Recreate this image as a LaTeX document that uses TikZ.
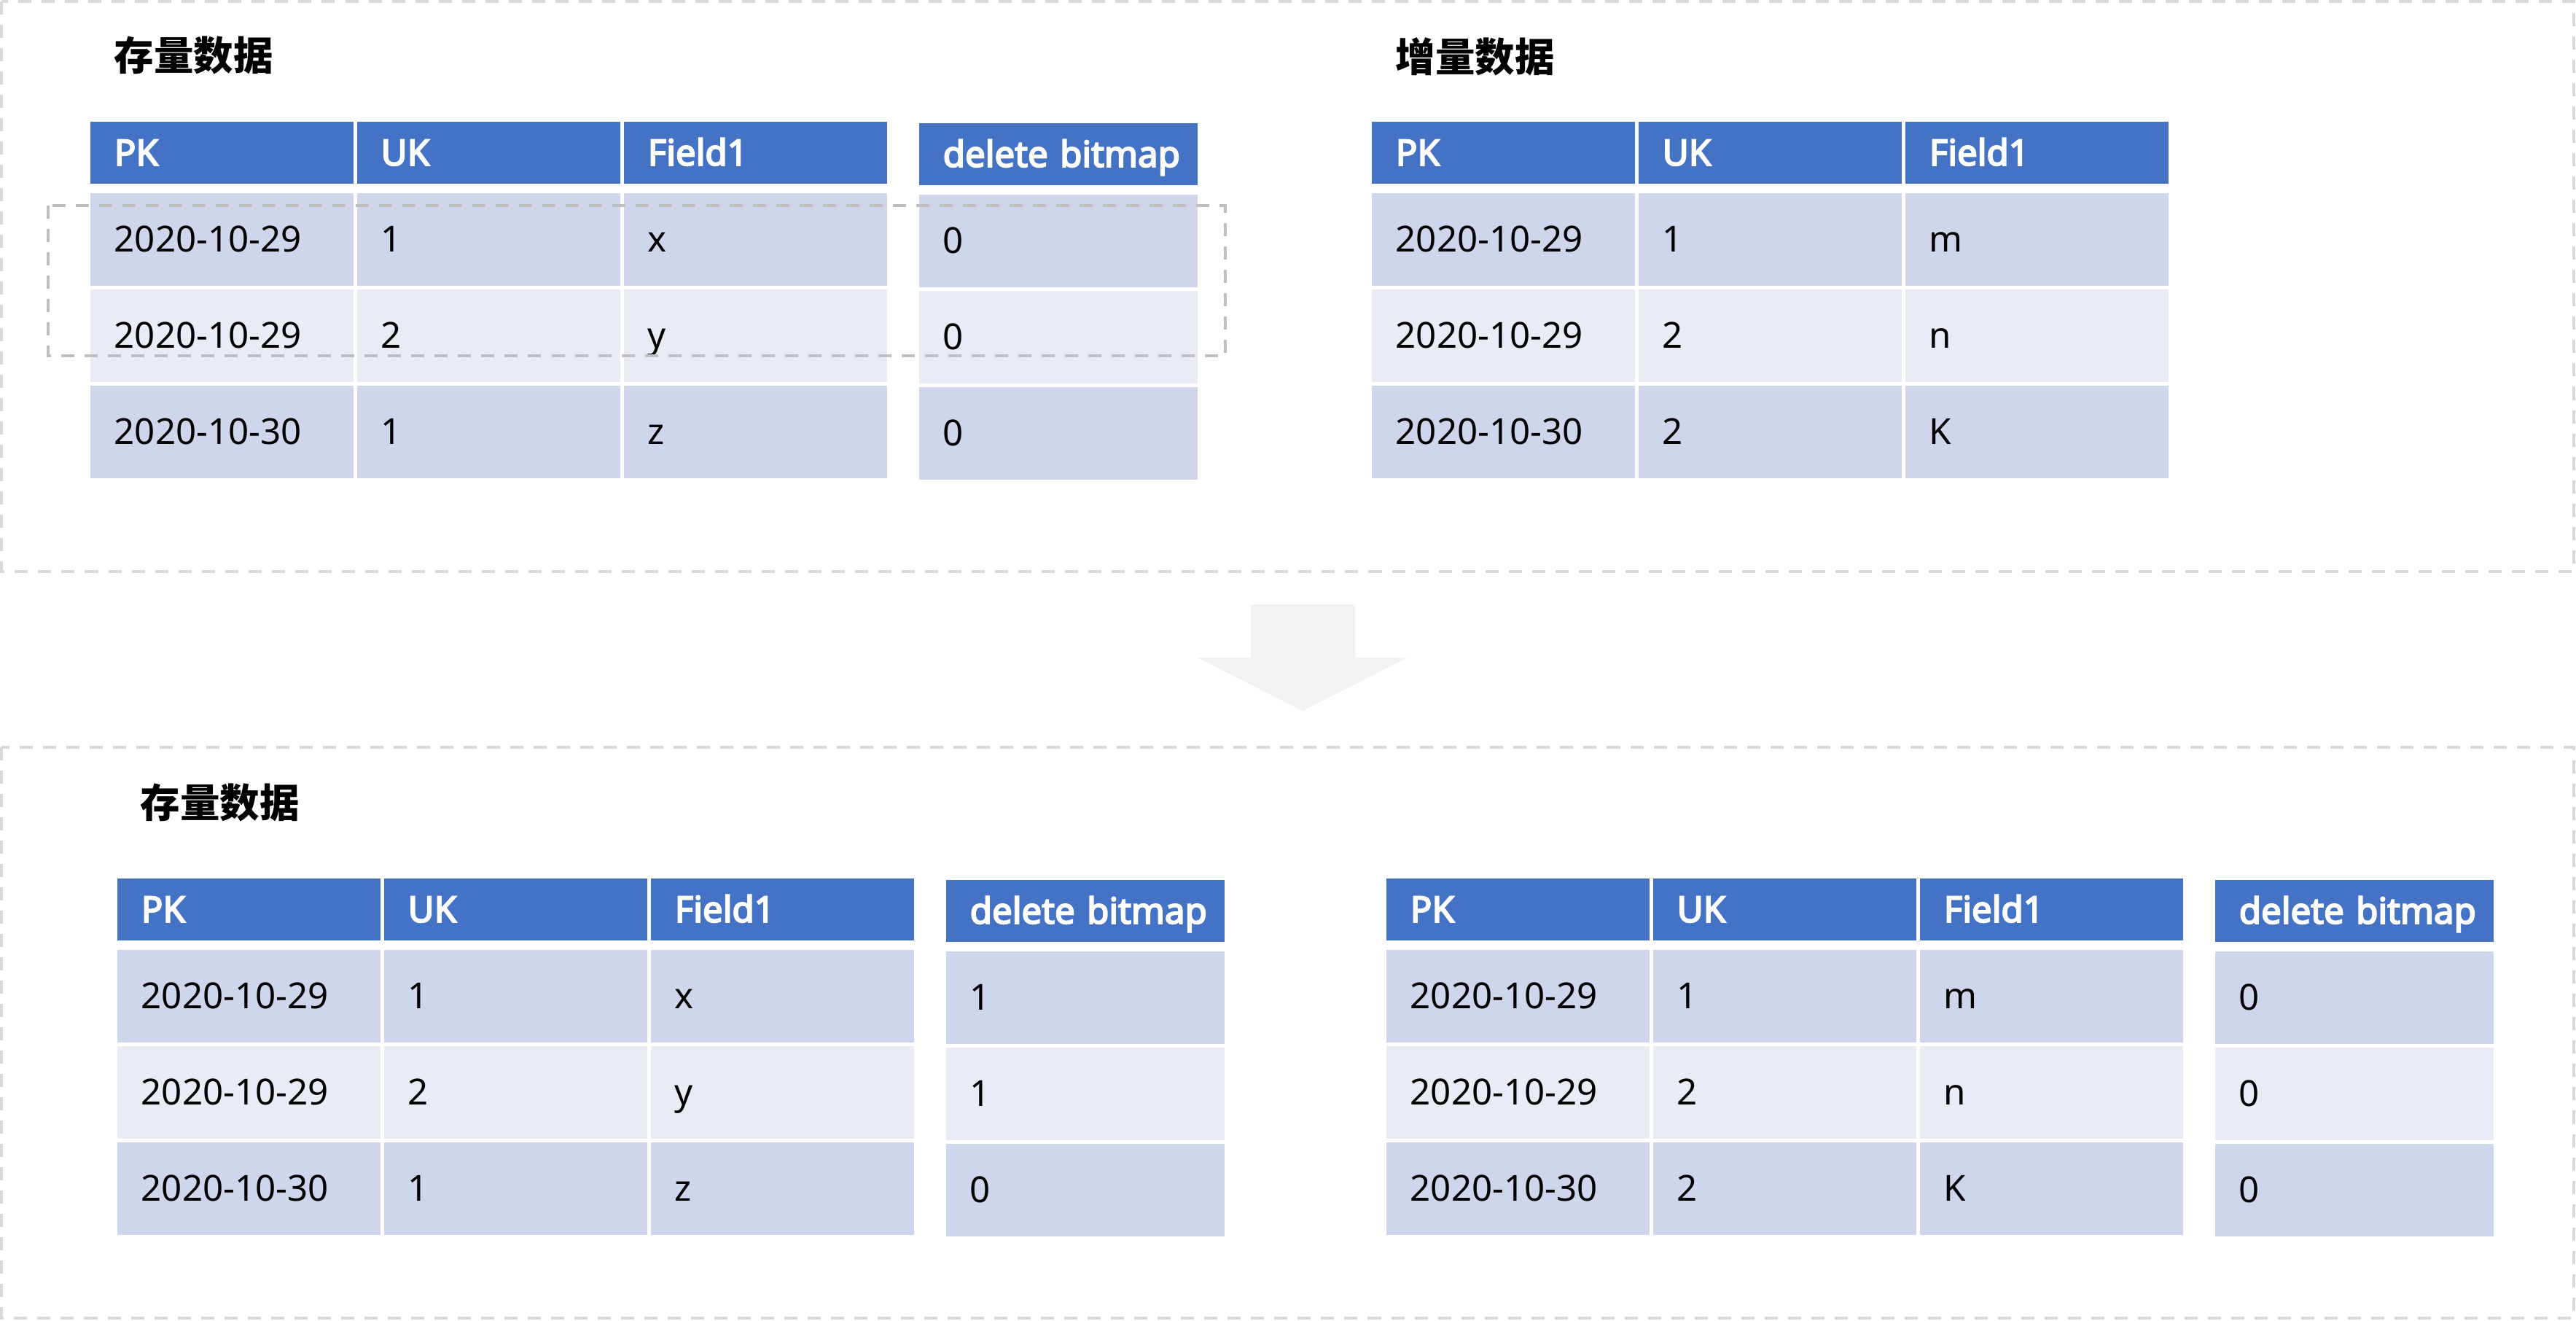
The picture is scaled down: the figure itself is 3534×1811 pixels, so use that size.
\documentclass[tikz,border=0pt]{standalone}
\usepackage{fontspec}
\setmainfont{Noto Sans}
\newfontfamily\hdfont{Noto Sans}[FakeBold=4]
\newfontfamily\cjk{Noto Sans CJK SC}
\definecolor{hdblue}{HTML}{4472C4}
\definecolor{rowdark}{HTML}{CFD5EA}
\definecolor{rowlight}{HTML}{E9EBF5}
\definecolor{framegray}{HTML}{D9D9D9}
\definecolor{markgray}{HTML}{BFBFBF}
\definecolor{arrowgray}{HTML}{F2F2F2}
\tikzset{
  tcell/.style={anchor=north west, inner xsep=0.33cm, inner ysep=0pt, text height=10pt, text depth=0pt, align=left, font=\fontsize{14}{16}\selectfont},
  hd/.style={tcell, fill=hdblue, text=white, font=\hdfont\fontsize{14}{16}\selectfont, minimum height=0.85cm},
  rw/.style={tcell, minimum height=1.27cm},
  wcol/.style={text width=2.95cm},
  wdel/.style={text width=3.16cm},
  ttl/.style={anchor=west, inner sep=0pt, font=\cjk\bfseries\fontsize{15.5}{18}\selectfont},
  outerbox/.style={draw=framegray, line width=0.04cm, dash pattern=on 0.18cm off 0.14cm},
  markbox/.style={draw=markgray, line width=0.04cm, dash pattern=on 0.18cm off 0.14cm},
}
\begin{document}
\begin{tikzpicture}[x=0.01cm, y=-0.01cm]
  \useasboundingbox (0,0) rectangle (3534,1811);

  % ================= 上框：合并前 =================
  \draw[outerbox] (2,2) rectangle (3531,784);

  % 存量数据
  \node[ttl] (t1) at (156,76) {存量数据};
  \begin{scope}[shift={(123,166)}]
    \node[hd, wcol] (s1-h1) at (0,0) {PK};
    \node[hd, wcol] (s1-h2) at (366,0) {UK};
    \node[hd, wcol] (s1-h3) at (732,0) {Field1};
    \node[hd, wdel] (s1-h4) at (1137,2) {\mbox{delete bitmap}};
    \foreach \r/\y/\fc/\pk/\uk/\fd/\db in {1/98/rowdark/2020-10-29/1/x/0, 2/230/rowlight/2020-10-29/2/y/0, 3/362/rowdark/2020-10-30/1/z/0}{
      \node[rw, wcol, fill=\fc] (s1-\r-1) at (0,\y) {\pk};
      \node[rw, wcol, fill=\fc] (s1-\r-2) at (366,\y) {\uk};
      \node[rw, wcol, fill=\fc] (s1-\r-3) at (732,\y) {\fd};
      \node[rw, wdel, fill=\fc] (s1-\r-4) at (1137,\y+2) {\db};
    }
  \end{scope}

  % 增量数据
  \node[ttl] (t2) at (1914,78) {增量数据};
  \begin{scope}[shift={(1881,166)}]
    \node[hd, wcol] (z1-h1) at (0,0) {PK};
    \node[hd, wcol] (z1-h2) at (366,0) {UK};
    \node[hd, wcol] (z1-h3) at (732,0) {Field1};
    \foreach \r/\y/\fc/\pk/\uk/\fd in {1/98/rowdark/2020-10-29/1/m, 2/230/rowlight/2020-10-29/2/n, 3/362/rowdark/2020-10-30/2/K}{
      \node[rw, wcol, fill=\fc] (z1-\r-1) at (0,\y) {\pk};
      \node[rw, wcol, fill=\fc] (z1-\r-2) at (366,\y) {\uk};
      \node[rw, wcol, fill=\fc] (z1-\r-3) at (732,\y) {\fd};
    }
  \end{scope}

  % 被覆盖的两行
  \draw[markbox] (66,282) rectangle (1681,488);

  % 向下箭头
  \fill[arrowgray] (1716,829) -- (1859,829) -- (1859,902) -- (1931,902) -- (1787,975) -- (1643,902) -- (1716,902) -- cycle;

  % ================= 下框：合并后 =================
  \draw[outerbox] (2,1025) rectangle (3531,1808);

  \node[ttl] (t3) at (192,1101) {存量数据};
  \begin{scope}[shift={(160,1204)}]
    \node[hd, wcol] (s2-h1) at (0,0) {PK};
    \node[hd, wcol] (s2-h2) at (366,0) {UK};
    \node[hd, wcol] (s2-h3) at (732,0) {Field1};
    \node[hd, wdel] (s2-h4) at (1137,2) {\mbox{delete bitmap}};
    \foreach \r/\y/\fc/\pk/\uk/\fd/\db in {1/98/rowdark/2020-10-29/1/x/1, 2/230/rowlight/2020-10-29/2/y/1, 3/362/rowdark/2020-10-30/1/z/0}{
      \node[rw, wcol, fill=\fc] (s2-\r-1) at (0,\y) {\pk};
      \node[rw, wcol, fill=\fc] (s2-\r-2) at (366,\y) {\uk};
      \node[rw, wcol, fill=\fc] (s2-\r-3) at (732,\y) {\fd};
      \node[rw, wdel, fill=\fc] (s2-\r-4) at (1137,\y+2) {\db};
    }
  \end{scope}

  \begin{scope}[shift={(1901,1204)}]
    \node[hd, wcol] (z2-h1) at (0,0) {PK};
    \node[hd, wcol] (z2-h2) at (366,0) {UK};
    \node[hd, wcol] (z2-h3) at (732,0) {Field1};
    \node[hd, wdel] (z2-h4) at (1137,2) {\mbox{delete bitmap}};
    \foreach \r/\y/\fc/\pk/\uk/\fd/\db in {1/98/rowdark/2020-10-29/1/m/0, 2/230/rowlight/2020-10-29/2/n/0, 3/362/rowdark/2020-10-30/2/K/0}{
      \node[rw, wcol, fill=\fc] (z2-\r-1) at (0,\y) {\pk};
      \node[rw, wcol, fill=\fc] (z2-\r-2) at (366,\y) {\uk};
      \node[rw, wcol, fill=\fc] (z2-\r-3) at (732,\y) {\fd};
      \node[rw, wdel, fill=\fc] (z2-\r-4) at (1137,\y+2) {\db};
    }
  \end{scope}
\end{tikzpicture}
\end{document}
